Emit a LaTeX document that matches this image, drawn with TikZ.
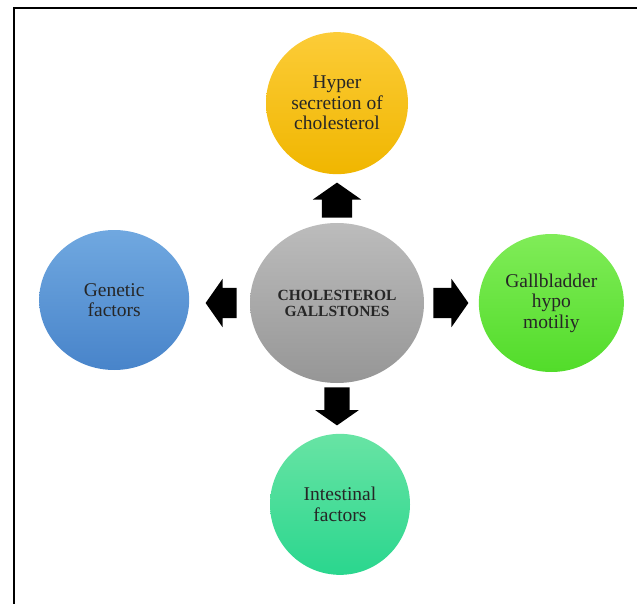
\documentclass[tikz,border=0pt]{standalone}
\usepackage{fontspec}
\setmainfont{Liberation Serif}
\usetikzlibrary{shapes.geometric, shapes.arrows, positioning}

\definecolor{hypertop}{RGB}{252,204,56}
\definecolor{hyperbot}{RGB}{240,182,0}
\definecolor{genetop}{RGB}{112,168,224}
\definecolor{genebot}{RGB}{72,132,202}
\definecolor{motiltop}{RGB}{128,236,88}
\definecolor{motilbot}{RGB}{82,220,42}
\definecolor{intesttop}{RGB}{104,228,164}
\definecolor{intestbot}{RGB}{42,214,142}
\definecolor{coretop}{RGB}{188,188,188}
\definecolor{corebot}{RGB}{150,150,150}

\begin{document}
\begin{tikzpicture}[
    x=1pt, y=-1pt,
    % Style for the outer circles (the causes)
    cause/.style={
        ellipse,
        inner sep=0pt,
        align=center,
        text=black!85,
        font=\fontsize{19.5}{20.5}\selectfont,
        minimum width=142pt,
        minimum height=142pt
    },
    % Style for the circle in the middle
    core/.style={
        ellipse,
        inner sep=0pt,
        align=center,
        text=black!85,
        font=\bfseries\fontsize{15.5}{16}\selectfont,
        top color=coretop,
        bottom color=corebot,
        minimum width=174pt,
        minimum height=160pt
    },
    % Style for the fat arrows between the circles
    blockarrow/.style={
        single arrow,
        fill=black,
        inner sep=0pt,
        minimum height=35pt,
        minimum width=48pt,
        single arrow head extend=9pt,
        single arrow tip angle=110
    }
]
\useasboundingbox (0,0) rectangle (637,604);

% Frame (only the top and left sides show)
\draw[line width=2pt] (14,620) -- (14,8) -- (650,8);

% 1. The centre circle
\node[core] (gallstones) at (337,303) {CHOLESTEROL\\GALLSTONES};

% 2. The arrows, placed next to the centre circle
\node[blockarrow, shape border rotate=90, inner xsep=15pt, above=5pt of gallstones, anchor=tail] (uparrow) {};
\node[blockarrow, shape border rotate=180, inner ysep=15pt, left=13pt of gallstones, anchor=tail,
    minimum height=31pt] (leftarrow) {};
\node[blockarrow, shape border rotate=0, inner ysep=15pt, right=9pt of gallstones, anchor=tail] (rightarrow) {};
\node[blockarrow, shape border rotate=270, inner xsep=12.5pt, below=4pt of gallstones, anchor=tail,
    minimum height=38pt, minimum width=42pt] (downarrow) {};

% 3. The causes, placed beyond the arrow tips
\node[cause, top color=hypertop, bottom color=hyperbot, above=8pt of uparrow.tip] (hyper) {Hyper\\secretion of\\cholesterol};
\node[cause, top color=genetop, bottom color=genebot, left=16pt of leftarrow.tip, yshift=3pt,
    minimum width=150pt, minimum height=140pt] (genetic) {Genetic\\factors};
\node[cause, top color=motiltop, bottom color=motilbot, right=10pt of rightarrow.tip,
    minimum width=145pt, minimum height=138pt] (motility) {Gallbladder\\hypo\\motiliy};
\node[cause, top color=intesttop, bottom color=intestbot, below=8pt of downarrow.tip, xshift=3pt,
    minimum width=140pt, minimum height=141pt] (intestinal) {Intestinal\\factors};

\end{tikzpicture}
\end{document}
